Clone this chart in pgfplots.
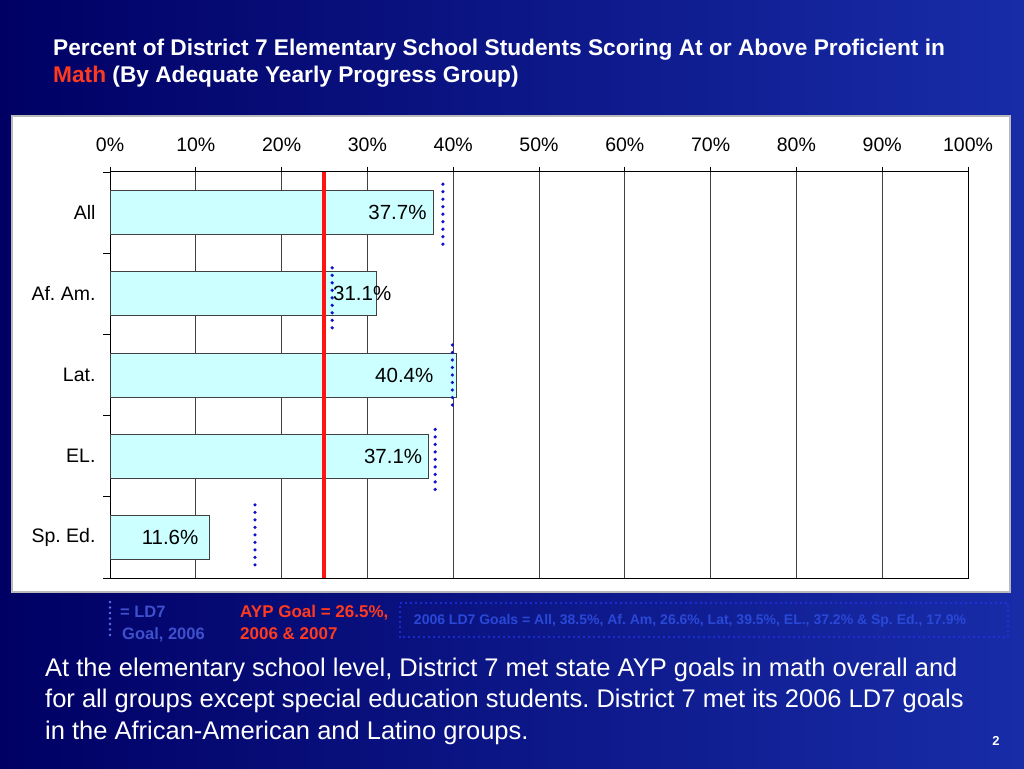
\documentclass[border=0pt]{standalone}
\usepackage{fontspec}
\setmainfont{Liberation Sans}
\usepackage{pgfplots}
\pgfplotsset{compat=1.18}
\frenchspacing

\definecolor{slideL}{RGB}{0,0,100}
\definecolor{slideR}{RGB}{24,44,168}
\definecolor{barfill}{RGB}{204,255,255}
\definecolor{goalblue}{RGB}{16,16,205}
\definecolor{aypred}{RGB}{255,20,20}
\definecolor{legblue}{RGB}{62,80,205}
\definecolor{legred}{RGB}{255,58,30}
\definecolor{boxblue}{RGB}{30,50,235}
\definecolor{boxtext}{RGB}{42,72,215}

\begin{document}
\begin{tikzpicture}[x=1pt,y=1pt]
  % slide background and chart frame
  \shade[left color=slideL, right color=slideR] (0,0) rectangle (1024,768);
  \filldraw[fill=white, draw=gray!55, line width=1.2pt] (12,176) rectangle (1010,652);

  % title
  \node[anchor=base west, inner sep=0pt, text=white,
        font=\bfseries\fontsize{22.7}{26}\selectfont] at (53,712)
    {Percent of District 7 Elementary School Students Scoring At or Above Proficient in};
  \node[anchor=base west, inner sep=0pt, text=white,
        font=\bfseries\fontsize{22.7}{26}\selectfont] at (53,685)
    {\textcolor{legred}{Math} (By Adequate Yearly Progress Group)};

  \begin{axis}[
    at={(110pt,190pt)}, anchor=south west,
    scale only axis, width=858pt, height=406pt,
    xmin=0, xmax=100, ymin=-0.5, ymax=4.5, y dir=reverse,
    xtick={0,10,...,100},
    xticklabels={0\%,10\%,20\%,30\%,40\%,50\%,60\%,70\%,80\%,90\%,100\%},
    xtick pos=upper, xticklabel pos=upper,
    ytick={0,1,2,3,4},
    yticklabels={All,Af. Am.,Lat.,EL.,Sp. Ed.},
    ytick pos=left,
    minor ytick={-0.5,0.5,1.5,2.5,3.5,4.5},
    major y tick style={draw=none},
    tick align=outside,
    major tick length=5pt, minor tick length=7pt,
    tick style={black, line width=0.8pt},
    xmajorgrids,
    major x grid style={black!75, line width=1pt},
    axis line style={black, line width=1pt},
    tick label style={font=\fontsize{19.5}{22}\selectfont},
    yticklabel style={xshift=-6pt},
    xticklabel style={yshift=12pt},
    clip=false,
  ]
    % scores
    \addplot[xbar, bar shift=0pt, bar width=44pt, fill=barfill,
             draw=black!75, line width=1pt]
      coordinates {(37.7,0) (31.1,1) (40.4,2) (37.1,3) (11.6,4)};

    % AYP goal
    \addplot[aypred, line width=4pt] coordinates {(24.9,-0.5) (24.9,4.5)};

    % 2006 LD7 goals (as drawn)
    \addplot[goalblue, line width=3.6pt, line cap=round,
             dash pattern=on 0pt off 7.5pt, unbounded coords=jump]
      coordinates {(38.8,-0.35) (38.8,0.42) (nan,nan)
                   (25.9,0.68) (25.9,1.46) (nan,nan)
                   (39.9,1.63) (39.9,2.41) (nan,nan)
                   (37.9,2.67) (37.9,3.46) (nan,nan)
                   (16.9,3.6) (16.9,4.4)};

    % value labels
    \addplot[draw=none, mark=none, nodes near coords,
             point meta=explicit symbolic,
             every node near coord/.style={anchor=center, inner sep=0pt,
               font=\fontsize{20.5}{24}\selectfont, text=black}]
      coordinates {(33.5,0) [37.7\%] (29.4,1) [31.1\%] (34.3,2) [40.4\%]
                   (33.0,3) [37.1\%] (7.0,4) [11.6\%]};
  \end{axis}

  % goal legend
  \draw[boxblue!70, line width=2.6pt, line cap=round, dash pattern=on 0pt off 5.5pt]
    (110,166) -- (110,128);
  \node[anchor=base west, inner sep=0pt, text=legblue,
        font=\bfseries\fontsize{16.5}{20}\selectfont] at (120,150) {= LD7};
  \node[anchor=base west, inner sep=0pt, text=legblue,
        font=\bfseries\fontsize{16.5}{20}\selectfont] at (122,129) {Goal, 2006};
  \node[anchor=base west, inner sep=0pt, text=legred,
        font=\bfseries\fontsize{17}{20}\selectfont] at (240,150) {AYP Goal = 26.5\%,};
  \node[anchor=base west, inner sep=0pt, text=legred,
        font=\bfseries\fontsize{17}{20}\selectfont] at (240,129) {2006 \& 2007};
  \draw[boxblue, line width=2.4pt, line cap=round, dash pattern=on 0pt off 5pt]
    (400,131) rectangle (1008,165);
  \node[inner sep=0pt, text=boxtext, font=\bfseries\fontsize{14}{16}\selectfont]
    at (690,147) {2006 LD7 Goals = All, 38.5\%, Af. Am, 26.6\%, Lat, 39.5\%, EL., 37.2\% \& Sp. Ed., 17.9\%};

  % commentary
  \begin{scope}[every node/.style={anchor=base west, inner sep=0pt, text=white,
                font=\fontsize{25.5}{30}\selectfont}]
    \node at (45,92) {At the elementary school level, District 7 met state AYP goals in math overall and};
    \node at (45,60.5) {for all groups except special education students. District 7 met its 2006 LD7 goals};
    \node at (45,29) {in the African-American and Latino groups.};
  \end{scope}
  \node[anchor=base, inner sep=0pt, text=white, font=\bfseries\fontsize{13}{16}\selectfont]
    at (996,23) {2};
\end{tikzpicture}
\end{document}
